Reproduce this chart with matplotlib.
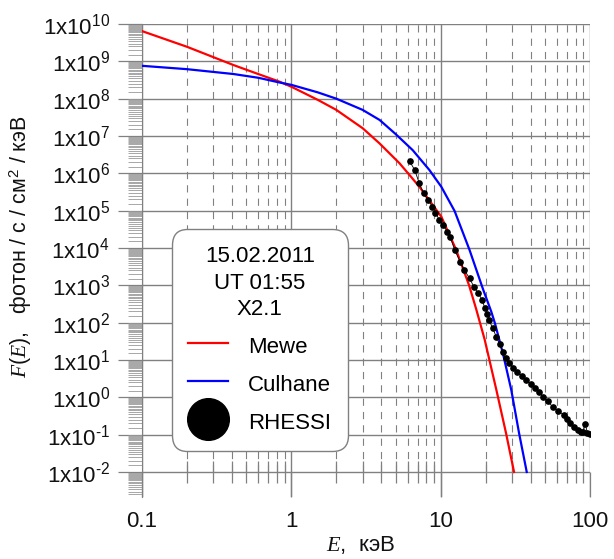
import numpy as np
import matplotlib
matplotlib.use("Agg")
import matplotlib.pyplot as plt
from matplotlib.lines import Line2D
from matplotlib.ticker import FixedLocator, FixedFormatter, NullFormatter

plt.rcParams['font.family'] = ['Liberation Sans', 'DejaVu Sans']
plt.rcParams['mathtext.fontset'] = 'custom'
plt.rcParams['mathtext.rm'] = 'Liberation Sans'
plt.rcParams['mathtext.it'] = 'Liberation Serif:italic'

# energies (keV) and log10 of the flux
mewe_e = [0.1, 0.2, 0.41, 0.6, 0.84, 1.0, 1.5, 2.0, 3.0, 3.9, 5.3, 6.2, 7.2, 10.1, 12.7,
          15.5, 17.3, 19.7, 23.6, 27.4, 31.0]
mewe_lf = [9.81, 9.39, 8.90, 8.66, 8.45, 8.32, 7.97, 7.70, 7.21, 6.80, 6.27, 5.95, 5.64,
           4.84, 3.95, 3.00, 2.36, 1.55, 0.20, -0.96, -2.0]

culhane_e = [0.1, 0.2, 0.41, 0.6, 0.84, 1.0, 1.5, 2.0, 3.0, 3.9, 5.0, 6.5, 8.4, 10.1, 12.4,
             15.6, 19.2, 21.8, 23.1, 26.1, 29.7, 33.5, 37.7]
culhane_lf = [8.88, 8.79, 8.66, 8.56, 8.43, 8.37, 8.17, 8.0, 7.70, 7.43, 7.05, 6.62, 6.09,
              5.64, 4.99, 3.95, 2.90, 2.30, 1.98, 1.18, 0.20, -0.96, -2.0]

rhessi_e = [6.2, 6.7, 7.2, 7.7, 8.2, 8.8, 9.2, 9.8, 10.3, 11.1, 11.6, 12.4, 13.5, 14.4,
            15.6, 16.7, 17.8, 19.0, 19.7, 20.5, 21.1, 22.3, 23.6, 24.8, 26.1, 27.4, 28.8,
            30.5, 32.5, 34.8, 37.4, 40.0, 42.5, 45.5, 48.6, 52.0, 56.2, 61.0, 66.7, 70.0,
            73.4, 78.0, 83.0, 87.0, 90.0, 93.0, 96.0, 100.0]
rhessi_lf = [6.32, 6.09, 5.73, 5.46, 5.29, 5.11, 4.95, 4.75, 4.62, 4.44, 4.29, 3.95, 3.63,
             3.41, 3.19, 2.96, 2.79, 2.61, 2.40, 2.24, 2.07, 1.85, 1.62, 1.42, 1.22, 1.06,
             0.91, 0.79, 0.69, 0.57, 0.46, 0.35, 0.24, 0.13, 0.02, -0.11, -0.25, -0.36,
             -0.47, -0.58, -0.70, -0.80, -0.88, -0.93, -0.92, -0.71, -0.95, -0.99]

x_major = [0.1, 1, 10, 100]
x_labels = ['0.1', '1', '10', '100']
y_exp = list(range(-2, 11))

gray = '#808080'

fig = plt.figure(figsize=(6.14, 5.59), dpi=100)
ax = fig.add_axes([142 / 614, 62 / 559, 448 / 614, 473 / 559])
ax.set_xscale('log')
ax.set_yscale('log')
ax.set_xlim(0.1, 100)
ax.set_ylim(10 ** -2.67, 1e10)

ax.plot(mewe_e, 10.0 ** np.array(mewe_lf), color='#ff0000', lw=1.6, zorder=3)
ax.plot(culhane_e, 10.0 ** np.array(culhane_lf), color='#0000ff', lw=1.6, zorder=3)
ax.plot(rhessi_e, 10.0 ** np.array(rhessi_lf), color='black', lw=0.6,
        marker='o', ms=3.8, zorder=4)

# grid
x_minor = [m * d for d in [0.1, 1, 10] for m in range(2, 10)]
ax.grid(which='major', color=gray, lw=1.0, ls='-', zorder=0)
ax.vlines(x_minor, 1e-2, 1e10, colors=gray, lw=0.8,
          linestyles=[(0, (6.5, 5.5))], zorder=0)

for s in ['top', 'right', 'bottom']:
    ax.spines[s].set_visible(False)
ax.spines['left'].set_color(gray)
ax.spines['bottom'].set_position(('data', 1e-2))

ax.xaxis.set_major_locator(FixedLocator(x_major))
ax.xaxis.set_major_formatter(FixedFormatter(x_labels))
ax.xaxis.set_minor_locator(FixedLocator(x_minor))
ax.xaxis.set_minor_formatter(NullFormatter())


def ylab(e):
    s = str(e).replace('-', '\u2010')
    return r'$\mathregular{1x10^{%s}}$' % s


y_ticks = [10.0 ** e for e in y_exp]
y_minor = [s * 10.0 ** e for e in range(-3, 10) for s in np.arange(1.5, 10, 0.5)]
ax.yaxis.set_major_locator(FixedLocator(y_ticks))
ax.yaxis.set_major_formatter(FixedFormatter([ylab(e) for e in y_exp]))
ax.yaxis.set_minor_locator(FixedLocator(y_minor))
ax.yaxis.set_minor_formatter(NullFormatter())

ax.tick_params(axis='y', which='major', direction='out', length=17, width=0.9,
               color=gray, labelsize=16, pad=6, labelcolor='#111111')
ax.tick_params(axis='y', which='minor', direction='out', length=10, width=0.6,
               color='#999999')
ax.tick_params(axis='x', which='major', direction='out', length=18, width=0.9,
               color=gray, labelsize=16, pad=10, labelcolor='#111111')
ax.tick_params(axis='x', which='minor', direction='inout', length=16, width=0.9,
               color=gray)

fig.text(361 / 614, 1 - 545 / 559, r'$E$,  кэВ', ha='center', va='center',
         fontsize=16, color='#111111')
fig.text(21 / 614, 1 - 247 / 559, r'$\mathit{F(E)}$,   фотон / с / см$^{\mathregular{2}}$ / кэВ',
         ha='center', va='center', rotation=90, fontsize=15.5, color='#111111')

handles = [Line2D([], [], color='#ff0000', lw=1.6),
           Line2D([], [], color='#0000ff', lw=1.6),
           Line2D([], [], ls='none', marker='o', ms=30, color='black')]
leg = ax.legend(handles, ['Mewe', 'Culhane', 'RHESSI'],
                title='15.02.2011\nUT 01:55\nX2.1',
                loc='center', bbox_to_anchor=(0.263, 0.332),
                fontsize=16, title_fontsize=16, handlelength=1.8,
                handletextpad=0.9, labelspacing=0.6, handleheight=1.3,
                borderpad=0.75, borderaxespad=0, framealpha=1, edgecolor=gray,
                fancybox=True)
leg.get_title().set_multialignment('center')
leg.get_title().set_linespacing(1.35)
leg.get_frame().set_boxstyle('round', pad=0.0, rounding_size=0.7)
leg.get_frame().set_linewidth(1.0)
leg.set_zorder(5)

fig.savefig('out.png', dpi=100)
